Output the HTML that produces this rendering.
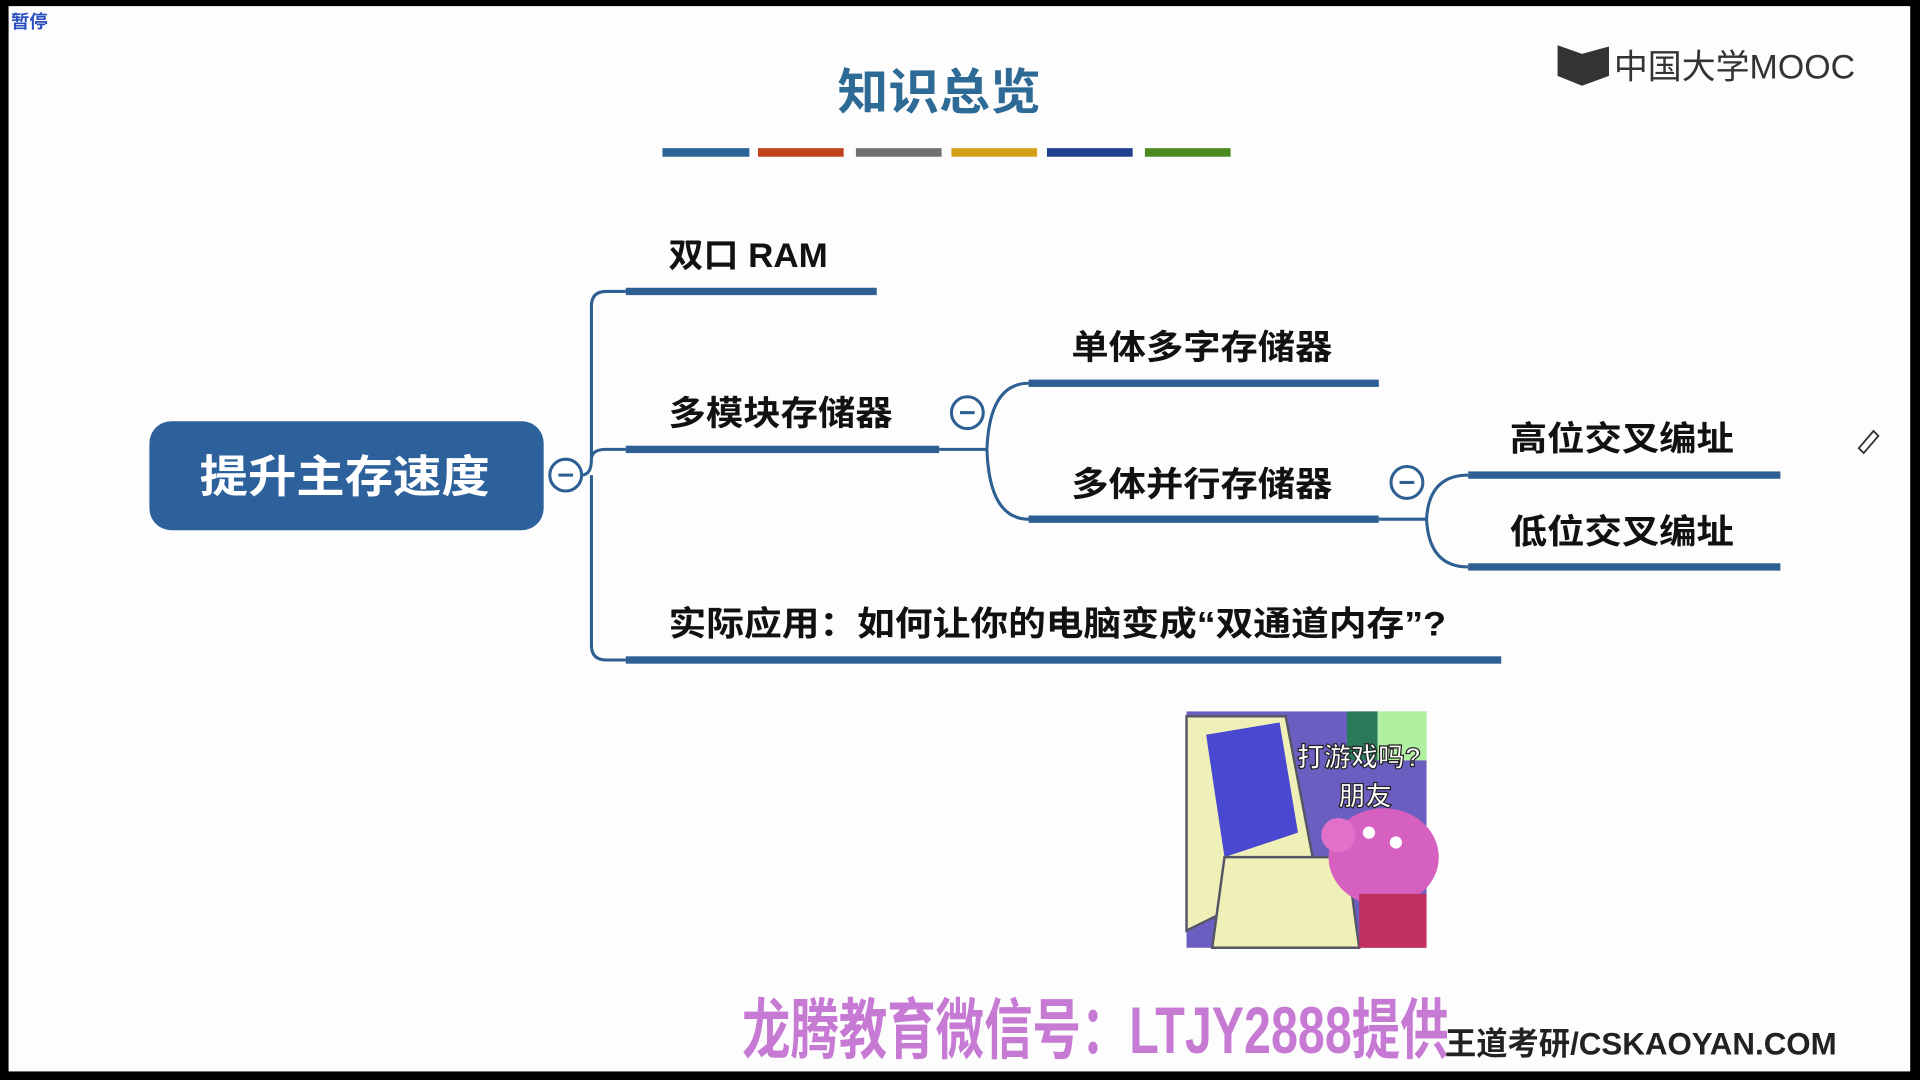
<!DOCTYPE html>
<html><head><meta charset="utf-8"><style>
html,body{margin:0;padding:0;background:#000;width:1920px;height:1080px;overflow:hidden}
svg{display:block}
text{font-family:"Liberation Sans","Noto Sans CJK SC",sans-serif}
</style></head><body>
<svg width="1920" height="1080" viewBox="0 0 1568 882" preserveAspectRatio="none" xmlns="http://www.w3.org/2000/svg">
<rect x="0" y="0" width="1568" height="882" fill="#000"/>
<rect x="7" y="5" width="1553" height="870" fill="#fdfdfd"/>
<text x="9" y="23" font-size="15" font-weight="bold" fill="#2a50c0">暂停</text>
<text x="684" y="89" font-size="40" font-weight="bold" fill="#2e6a96" textLength="166" lengthAdjust="spacingAndGlyphs">知识总览</text>
<rect x="541" y="121" width="71" height="7" fill="#2a6496"/>
<rect x="619" y="121" width="70" height="7" fill="#c0421a"/>
<rect x="699" y="121" width="70" height="7" fill="#707070"/>
<rect x="777" y="121" width="70" height="7" fill="#d4a017"/>
<rect x="855" y="121" width="70" height="7" fill="#1f3f8f"/>
<rect x="935" y="121" width="70" height="7" fill="#4a8a1e"/>
<path d="M1272 37 L1292 44 L1314 38 L1314 62 L1292 70 L1272 62 Z" fill="#333"/>
<text x="1318" y="64" font-size="28" fill="#333" textLength="197" lengthAdjust="spacingAndGlyphs">中国大学MOOC</text>
<rect x="122" y="344" width="322" height="89" rx="18" fill="#2d619c"/>
<text x="163" y="402" font-size="36" font-weight="bold" fill="#fff" textLength="237" lengthAdjust="spacingAndGlyphs">提升主存速度</text>
<g fill="none" stroke="#2d5f93" stroke-width="2.5">
<circle cx="462" cy="388" r="13" fill="#fff"/>
<line x1="456" y1="388" x2="468" y2="388"/>
<path d="M475 388 Q483 388 483 375 L483 250 Q483 238 495 238 L511 238"/>
<path d="M483 375 Q483 367 495 367 L511 367"/>
<path d="M483 388 L483 527 Q483 539 495 539 L511 539"/>
<circle cx="790" cy="337" r="13" fill="#fff"/>
<line x1="784" y1="337" x2="796" y2="337"/>
<path d="M767 367 L806 367 Q808 313 840 313"/>
<path d="M806 367 Q808 424 840 424"/>
<circle cx="1149" cy="394" r="13" fill="#fff"/>
<line x1="1143" y1="394" x2="1155" y2="394"/>
<path d="M1126 424 L1165 424 Q1167 388 1199 388"/>
<path d="M1165 424 Q1167 463 1199 463"/>
</g>
<g fill="#2d5f93">
<rect x="511" y="235" width="205" height="6"/>
<rect x="511" y="364" width="256" height="6"/>
<rect x="840" y="310" width="286" height="6"/>
<rect x="840" y="421" width="286" height="6"/>
<rect x="1199" y="385" width="255" height="6"/>
<rect x="1199" y="460" width="255" height="6"/>
<rect x="511" y="536" width="715" height="6"/>
</g>
<g font-size="28" font-weight="bold" fill="#111" lengthAdjust="spacingAndGlyphs">
<text x="546" y="218" textLength="130" lengthAdjust="spacingAndGlyphs">双口 RAM</text>
<text x="546" y="347" textLength="183" lengthAdjust="spacingAndGlyphs">多模块存储器</text>
<text x="875" y="293" textLength="213" lengthAdjust="spacingAndGlyphs">单体多字存储器</text>
<text x="875" y="405" textLength="213" lengthAdjust="spacingAndGlyphs">多体并行存储器</text>
<text x="1233" y="368" textLength="183" lengthAdjust="spacingAndGlyphs">高位交叉编址</text>
<text x="1233" y="444" textLength="183" lengthAdjust="spacingAndGlyphs">低位交叉编址</text>
<text x="546" y="519" textLength="635" lengthAdjust="spacingAndGlyphs">实际应用：如何让你的电脑变成“双通道内存”?</text>
</g>
<path d="M1518 366 L1530 352 L1534 356 L1522 370 Z" fill="none" stroke="#333" stroke-width="1.5"/>
<g>
<rect x="969" y="581" width="196" height="193" fill="#6a5fc0"/>
<rect x="1100" y="581" width="25" height="40" fill="#2a7a5a"/>
<rect x="1125" y="581" width="40" height="40" fill="#b0f0a0"/>
<path d="M969 585 L1050 585 L1072 700 L1030 730 L969 760 Z" fill="#eef0b8" stroke="#556" stroke-width="2"/>
<path d="M985 600 L1045 590 L1060 680 L1000 700 Z" fill="#4848d0"/>
<path d="M1000 700 L1100 700 L1110 774 L990 774 Z" fill="#eef0b8" stroke="#556" stroke-width="2"/>
<ellipse cx="1130" cy="700" rx="45" ry="40" fill="#d560c0"/>
<rect x="1110" y="730" width="55" height="44" fill="#c03060"/>
<circle cx="1093" cy="682" r="14" fill="#e070c8"/>
<circle cx="1118" cy="680" r="5" fill="#fff"/><circle cx="1140" cy="688" r="5" fill="#fff"/>
<text x="1110" y="626" font-size="22" font-weight="bold" fill="#fff" stroke="#222" stroke-width="1" text-anchor="middle">打游戏吗?</text>
<text x="1115" y="658" font-size="22" font-weight="bold" fill="#fff" stroke="#222" stroke-width="1" text-anchor="middle">朋友</text>
</g>
<text x="606" y="860" font-size="54" font-weight="bold" fill="#c77ad4" textLength="577" lengthAdjust="spacingAndGlyphs">龙腾教育微信号：LTJY2888提供</text>
<text x="1180" y="861" font-size="26" font-weight="bold" fill="#222" textLength="320" lengthAdjust="spacingAndGlyphs">王道考研/CSKAOYAN.COM</text>
</svg>
</body></html>
